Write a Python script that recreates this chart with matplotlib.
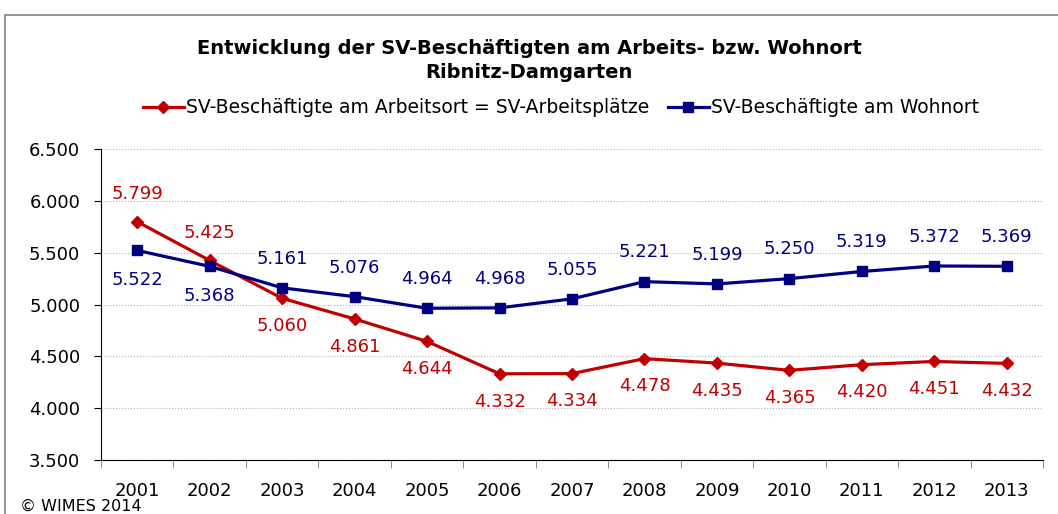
import matplotlib.pyplot as plt
from matplotlib.patches import Rectangle

# Data
years = ['2001', '2002', '2003', '2004', '2005', '2006', '2007',
         '2008', '2009', '2010', '2011', '2012', '2013']
arbeitsort = [5799, 5425, 5060, 4861, 4644, 4332, 4334, 4478, 4435, 4365, 4420, 4451, 4432]
wohnort = [5522, 5368, 5161, 5076, 4964, 4968, 5055, 5221, 5199, 5250, 5319, 5372, 5369]
# label placement: +1 above point, -1 below
arbeitsort_pos = [1, 1, -1, -1, -1, -1, -1, -1, -1, -1, -1, -1, -1]
wohnort_pos = [-1, -1, 1, 1, 1, 1, 1, 1, 1, 1, 1, 1, 1]

red = '#C00000'
blue = '#000080'

def fmt(v):
    return f'{v:,}'.replace(',', '.')

fig = plt.figure(figsize=(10.58, 5.14), dpi=100)
ax = fig.add_axes([0.0955, 0.105, 0.8903, 0.605])

x = list(range(len(years)))
ax.plot(x, arbeitsort, color=red, lw=2.3, marker='D', ms=6.5,
        label='SV-Beschäftigte am Arbeitsort = SV-Arbeitsplätze')
ax.plot(x, wohnort, color=blue, lw=2.3, marker='s', ms=7.5,
        label='SV-Beschäftigte am Wohnort')

for i, (v, p) in enumerate(zip(arbeitsort, arbeitsort_pos)):
    ax.annotate(fmt(v), (i, v), xytext=(0, 20 * p), textcoords='offset points',
                ha='center', va='center', color=red, fontsize=13)
for i, (v, p) in enumerate(zip(wohnort, wohnort_pos)):
    ax.annotate(fmt(v), (i, v), xytext=(0, 21 * p), textcoords='offset points',
                ha='center', va='center', color=blue, fontsize=13)

ax.set_xlim(-0.5, len(years) - 0.5)
ax.set_ylim(3500, 6500)
ax.set_yticks(range(3500, 7000, 500))
ax.set_yticklabels([fmt(v) for v in range(3500, 7000, 500)], fontsize=13)
ax.set_xticks(x)
ax.set_xticklabels(years, fontsize=13)
ax.set_xticks([i - 0.5 for i in range(len(years) + 1)], minor=True)
ax.tick_params(axis='x', which='major', length=0, pad=16)
ax.tick_params(axis='x', which='minor', length=6, color='#808080')
ax.tick_params(axis='y', length=5, pad=10)
ax.yaxis.grid(True, color='#b0b0b0', linestyle=':', lw=0.8)
ax.set_axisbelow(True)
for s in ['top', 'right']:
    ax.spines[s].set_visible(False)

fig.text(0.5, 0.883, 'Entwicklung der SV-Beschäftigten am Arbeits- bzw. Wohnort\nRibnitz-Damgarten',
         ha='center', va='center', fontsize=14, fontweight='bold', linespacing=1.35)
fig.legend(loc='center', bbox_to_anchor=(0.53, 0.79), ncol=2, frameon=False,
           fontsize=13.5, handlelength=2.2, handletextpad=0.1, columnspacing=1.0)

fig.text(0.019, 0.0, '© WIMES 2014', fontsize=11.5, ha='left', va='bottom')

fig.patches.append(Rectangle((0.005, -0.1), 1.1, 1.07, transform=fig.transFigure,
                             fill=False, edgecolor='#808080', lw=1.2))

fig.savefig('out.png', dpi=100)
